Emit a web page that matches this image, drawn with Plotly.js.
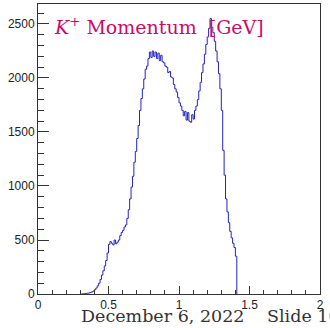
<!DOCTYPE html>
<html>
<head>
<meta charset="utf-8">
<script src="https://cdn.plot.ly/plotly-3.0.1.min.js"></script>
<style>html,body{margin:0;padding:0;background:#fff;overflow:hidden}#chart{width:330px;height:328px}</style>
</head>
<body>
<div id="chart"></div>
<script>
// Histogram: K+ momentum [GeV], bins of width 0.01 starting at 0.30
const binLow = 0.30;
const binWidth = 0.01;
const counts = [
  0, 0, 2, 4, 6, 8, 10, 14, 20, 28,            // 0.30-0.39
  40, 55, 75, 100, 135, 175, 215, 260, 310, 380, // 0.40-0.49
  460, 485, 470, 455, 500, 465, 480, 500, 540, 570, // 0.50-0.59
  590, 620, 640, 700, 780, 880, 990, 1090, 1220, 1320, // 0.60-0.69
  1440, 1560, 1700, 1810, 1900, 1990, 2080, 2110, 2180, 2240, // 0.70-0.79
  2190, 2250, 2200, 2240, 2180, 2230, 2160, 2210, 2150, 2140, // 0.80-0.89
  2110, 2100, 2050, 2060, 2010, 2000, 1940, 1900, 1870, 1820, // 0.90-0.99
  1770, 1740, 1700, 1650, 1690, 1610, 1680, 1600, 1590, 1660, // 1.00-1.09
  1620, 1700, 1740, 1800, 1880, 1960, 2050, 2130, 2220, 2310, // 1.10-1.19
  2380, 2460, 2550, 2470, 2420, 2340, 2250, 2150, 2040, 1900, // 1.20-1.29
  1700, 1330, 1100, 880, 760, 660, 580, 520, 470, 430,  // 1.30-1.39
  350                                              // 1.40
];
const titleText = '<i>K</i><sup>+</sup> Momentum&nbsp;&nbsp;[GeV]';
const footerDate = 'December 6, 2022';
const footerSlide = 'Slide 10';

const xs = [binLow], ys = [0];
counts.forEach((c, i) => { xs.push(binLow + i * binWidth); ys.push(c); });
const xEnd = binLow + counts.length * binWidth;
xs.push(xEnd); ys.push(counts[counts.length - 1]);
xs.push(xEnd); ys.push(0);

const axisCommon = {
  showline: true, linecolor: '#333', linewidth: 1, mirror: true,
  ticks: 'inside', tickcolor: '#333', showgrid: false, zeroline: false,
  tickfont: {family: 'Liberation Sans, Arial, sans-serif', size: 12, color: '#222'}
};

const serif = 'DejaVu Serif, Liberation Serif, serif';

const layout = {
  width: 330, height: 328,
  margin: {l: 38, r: 10, t: 4, b: 34},
  paper_bgcolor: '#fff', plot_bgcolor: '#fff',
  showlegend: false,
  xaxis: Object.assign({}, axisCommon, {
    range: [0, 2], ticklen: 8,
    tickvals: [0, 0.5, 1, 1.5, 2], ticktext: ['0', '0.5', '1', '1.5', '2'],
    minor: {dtick: 0.1, ticklen: 4, ticks: 'inside', tickcolor: '#333'}
  }),
  yaxis: Object.assign({}, axisCommon, {
    range: [0, 2685], dtick: 500, tick0: 0, ticklen: 11,
    minor: {dtick: 100, ticklen: 6, ticks: 'inside', tickcolor: '#333'}
  }),
  annotations: [
    {text: titleText, xref: 'paper', yref: 'paper', x: 0.05, y: 0.925,
     xanchor: 'left', yanchor: 'middle', showarrow: false,
     font: {family: serif, size: 19, color: '#cc0a6a'}},
    {text: footerDate, xref: 'paper', yref: 'paper', x: 0.145, y: -0.076,
     xanchor: 'left', yanchor: 'middle', showarrow: false,
     font: {family: serif, size: 17.5, color: '#333'}},
    {text: footerSlide, xref: 'paper', yref: 'paper', x: 0.805, y: -0.076,
     xanchor: 'left', yanchor: 'middle', showarrow: false,
     font: {family: serif, size: 17.5, color: '#333'}}
  ]
};

Plotly.newPlot('chart', [{
  type: 'scatter', mode: 'lines', x: xs, y: ys,
  line: {shape: 'hv', color: '#2323c0', width: 1},
  hoverinfo: 'none'
}], layout, {displayModeBar: false, staticPlot: true});
</script>
</body>
</html>
